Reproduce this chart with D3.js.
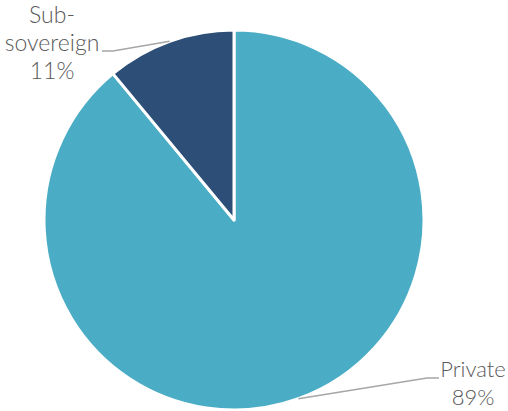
<!DOCTYPE html>
<html>
<head>
<meta charset="utf-8">
<script src="https://cdn.jsdelivr.net/npm/d3@7"></script>
<style>
  html, body { margin: 0; padding: 0; background: #fff; }
  svg { display: block; }
  text { font-family: "Lato", "Open Sans", sans-serif; font-weight: 300; fill: #595959; }
</style>
</head>
<body>
<svg id="chart" width="508" height="411"></svg>
<script>
// Share of lending by borrower type (%)
const categories = ["Private", "Sub-sovereign"];
const values = [89, 11];
const colors = ["#4aacc5", "#2d4e77"];

const svg = d3.select("#chart");
const cx = 234, cy = 220, radius = 190;
const g = svg.append("g").attr("transform", `translate(${cx},${cy})`);

const pie = d3.pie().sort(null).value(d => d.value);
const arcs = pie(categories.map((c, i) => ({ name: c, value: values[i], color: colors[i] })));
const arc = d3.arc().innerRadius(0).outerRadius(radius);

g.selectAll("path.slice")
  .data(arcs)
  .join("path")
  .attr("class", "slice")
  .attr("d", arc)
  .attr("fill", d => d.data.color)
  .attr("stroke", "#fff")
  .attr("stroke-width", 3)
  .attr("stroke-linejoin", "round");

// Label layout: elbow point, text anchor, text lines
const labelSpec = {
  "Private": { elbow: [427 - cx, 378 - cy], end: [439 - cx, 378 - cy], tx: 473 - cx, ty: 377 - cy, lines: ["Private", "89%"], size: 22 },
  "Sub-sovereign": { elbow: [113 - cx, 51 - cy], end: [102 - cx, 51 - cy], tx: 52 - cx, ty: 23 - cy, lines: ["Sub-", "sovereign", "11%"], size: 23 }
};

arcs.forEach(d => {
  const spec = labelSpec[d.data.name];
  const mid = (d.startAngle + d.endAngle) / 2;
  const p0 = [Math.sin(mid) * radius, -Math.cos(mid) * radius];
  g.append("polyline")
    .attr("points", [p0, spec.elbow, spec.end].map(p => p.join(",")).join(" "))
    .attr("fill", "none")
    .attr("stroke", "#a6a6a6")
    .attr("stroke-width", 1.5);
  const t = g.append("text")
    .attr("text-anchor", "middle")
    .attr("font-size", spec.size);
  const pct = Math.round(d.data.value) + "%";
  const lines = spec.lines.slice(0, -1).concat([pct]);
  lines.forEach((ln, i) => {
    t.append("tspan")
      .attr("x", spec.tx)
      .attr("y", spec.ty + i * 28)
      .text(ln);
  });
});
</script>
</body>
</html>
